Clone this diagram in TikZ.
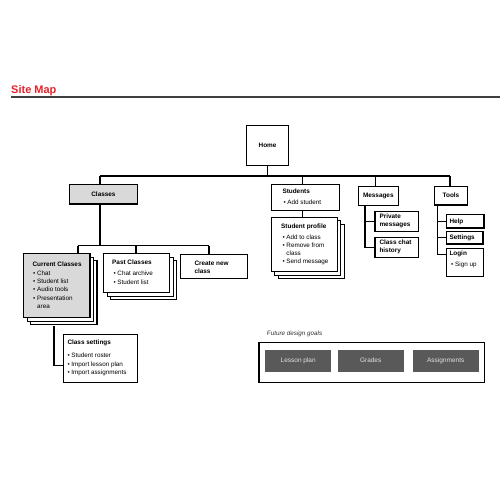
\documentclass[tikz,border=0pt]{standalone}
\usepackage{fontspec}
\setmainfont{Liberation Sans}
\definecolor{sitered}{HTML}{E8202A}
\definecolor{lgray}{HTML}{D9D9D9}
\definecolor{dgray}{HTML}{595959}
\definecolor{ltext}{HTML}{E2E2E2}
\newcommand\bl[1]{\strut\textbullet\ #1}
\newcommand\blc[1]{\strut\phantom{\textbullet\ }#1}
\begin{document}
\begin{tikzpicture}[x=1pt,y=-1pt,
  bx/.style={draw=black, line width=1.2pt, fill=white, inner sep=0pt, anchor=north west,
    font=\fontsize{6.4}{8}\selectfont\bfseries},
  ttl/.style={font=\fontsize{6.4}{8}\selectfont\bfseries, inner sep=0pt, anchor=base west},
  lst/.style={font=\fontsize{6.3}{8.2}\selectfont, inner sep=0pt, anchor=north west, align=left},
  blst/.style={font=\fontsize{6.4}{7.6}\selectfont\bfseries, inner sep=0pt, anchor=north west, align=left},
  gbx/.style={fill=dgray, draw=none, inner sep=0pt, anchor=north west, text=ltext,
    font=\fontsize{6.5}{8}\selectfont, minimum height=21.7pt, text height=4.7pt, text depth=1.3pt},
  cn/.style={line width=1.2pt}]
\useasboundingbox (0,0) rectangle (500,500);
\fill[white] (0,0) rectangle (500,500);

% title
\node[font=\fontsize{11}{13}\selectfont\bfseries, text=sitered, inner sep=0pt, anchor=base west] (title) at (11,93.6) {Site Map};
\coordinate (ruleL) at (11,97);
\coordinate (ruleR) at (500,97);
\draw[line width=2pt, black!75] (ruleL) -- (ruleR);

% top level
\node[bx, minimum width=42pt, minimum height=40pt] (home) at (246,125) {Home};
\coordinate (busL) at (100,176);
\coordinate (busR) at (450,176);
\coordinate (dStu) at (302.7,176);
\coordinate (dMsg) at (375.7,176);

\node[bx, fill=lgray, minimum width=67.7pt, minimum height=19.3pt] (classes) at (69,184) {Classes};

\node[bx, minimum width=68.3pt, minimum height=26pt] (students) at (270.7,184) {};
\node[ttl] (studentsT) at (282.3,193) {Students};
\node[lst] (studentsL) at (283.3,199) {\bl{Add student}};

% student profile stack
\node[bx, minimum width=66pt, minimum height=54.3pt] (sp2) at (277.7,223.7) {};
\node[bx, minimum width=66pt, minimum height=54.3pt] (sp1) at (274.2,220.2) {};
\node[bx, minimum width=66pt, minimum height=54.3pt] (sp) at (270.7,216.7) {};
\node[ttl] (spT) at (281,228.3) {Student profile};
\node[lst] (spL) at (282.3,233.3) {\bl{Add to class}\\\bl{Remove from}\\\blc{class}\\\bl{Send message}};

\node[bx, minimum width=40pt, minimum height=19pt] (messages) at (357.7,186) {Messages};
\node[bx, minimum width=43.4pt, minimum height=20pt] (pm) at (374.3,211) {};
\node[blst] (pmT) at (379.3,213) {\strut Private\\\strut messages};
\node[bx, minimum width=43.4pt, minimum height=20pt] (cch) at (374.3,236.7) {};
\node[blst] (cchT) at (379.3,239) {\strut Class chat\\\strut history};

\node[bx, minimum width=32.7pt, minimum height=18.6pt] (tools) at (434,185.7) {Tools};
\node[bx, minimum width=37.3pt, minimum height=13.3pt] (help) at (446,214) {};
\node[ttl] (helpT) at (449.3,223) {Help};
\node[bx, minimum width=36.3pt, minimum height=12.3pt] (settings) at (446,231) {};
\node[ttl] (settingsT) at (449.3,239.3) {Settings};
\node[bx, minimum width=36.7pt, minimum height=28pt] (login) at (446,247.7) {};
\node[ttl] (loginT) at (449.3,255.3) {Login};
\node[lst] (loginL) at (451,260.3) {\bl{Sign up}};

% classes level
\node[bx, minimum width=66.3pt, minimum height=64pt] (cc2) at (30,260) {};
\node[bx, minimum width=66.3pt, minimum height=64pt] (cc1) at (26.5,256.5) {};
\node[bx, fill=lgray, minimum width=66.3pt, minimum height=64pt] (cc) at (23,253) {};
\node[ttl] (ccT) at (32.3,266) {Current Classes};
\node[lst] (ccL) at (33,269.6) {\bl{Chat}\\\bl{Student list}\\\bl{Audio tools}\\\bl{Presentation}\\\blc{area}};

\node[bx, minimum width=66pt, minimum height=39pt] (past2) at (110,260) {};
\node[bx, minimum width=66pt, minimum height=39pt] (past1) at (106.5,256.5) {};
\node[bx, minimum width=66pt, minimum height=39pt] (past) at (103,253) {};
\node[ttl] (pastT) at (112,264.3) {Past Classes};
\node[lst] (pastL) at (113.3,270) {\bl{Chat archive}\\\bl{Student list}};

\node[bx, minimum width=67pt, minimum height=24pt] (create) at (180,254) {};
\node[blst] (createT) at (194.3,260) {\strut Create new\\\strut class};

\node[bx, minimum width=74pt, minimum height=48pt] (cs) at (63,334) {};
\node[ttl] (csT) at (67.3,344.7) {Class settings};
\node[lst] (csL) at (67.3,352) {\bl{Student roster}\\\bl{Import lesson plan}\\\bl{Import assignments}};

\coordinate (subL) at (78,245.7);
\coordinate (subM) at (136,245.7);
\coordinate (subR) at (209,245.7);
\coordinate (ccX) at (54,326);
\coordinate (ccTurn) at (54,365.7);

% future design goals
\node[font=\fontsize{6.3}{8}\selectfont\itshape, text=black!80, inner sep=0pt, anchor=west] (fdgT) at (266.7,334) {Future design goals};
\node[bx, minimum width=225.7pt, minimum height=40pt] (fdg) at (258.3,341.7) {};
\node[gbx, minimum width=66pt] (lp) at (265,350) {Lesson plan};
\node[gbx, minimum width=65.6pt] (gr) at (337.7,350) {Grades};
\node[gbx, minimum width=66.4pt] (as) at (412.3,350) {Assignments};

% connectors
\draw[cn] (home.south) -- (home.south |- busL);
\draw[cn] (busL) -- (busR);
\draw[cn] (busL) -- (busL |- classes.north);
\draw[cn] (dStu) -- (dStu |- students.north);
\draw[cn] (dMsg) -- (dMsg |- messages.north);
\draw[cn] (busR) -- (busR |- tools.north);
\draw[cn] (students.south -| dStu) -- (dStu |- sp.north);

\coordinate (mSp) at (365,205);
\draw[cn] (mSp |- messages.south) -- (mSp |- cch.west) -- (cch.west);
\draw[cn] (mSp |- pm.west) -- (pm.west);

\coordinate (tSp) at (437.7,254.3);
\draw[cn] (tSp |- tools.south) -- (tSp) -- (tSp -| login.west);
\draw[cn] (tSp |- help.west) -- (help.west);
\draw[cn] (tSp |- settings.west) -- (settings.west);

\draw[cn] (classes.south -| busL) -- (busL |- subL);
\draw[cn] (subL) -- (subR);
\draw[cn] (subL) -- (subL |- cc.north);
\draw[cn] (subM) -- (subM |- past.north);
\draw[cn] (subR) -- (subR |- create.north);
\draw[cn] (ccX) -- (ccTurn) -- (ccTurn -| cs.west);
\end{tikzpicture}
\end{document}
